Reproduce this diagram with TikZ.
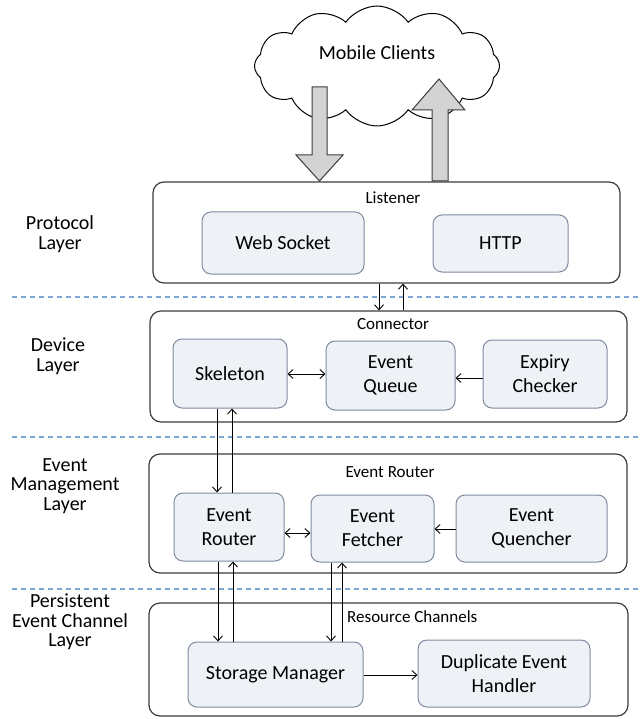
\documentclass[tikz,border=0pt]{standalone}
\usepackage{fontspec}
\setmainfont{Carlito}
\usetikzlibrary{shapes.symbols,arrows.meta}
\definecolor{innerfill}{HTML}{EEF1F6}
\definecolor{innerdraw}{HTML}{7F8CA0}
\definecolor{outerdraw}{HTML}{3C3C3C}
\definecolor{dashblue}{HTML}{7FA8D6}
\definecolor{bigfill}{HTML}{D3D3D3}
\begin{document}
\begin{tikzpicture}[x=1pt,y=-1pt,
  outer/.style={draw=outerdraw,line width=1.2pt,rounded corners=11pt,fill=white},
  inner/.style={draw=innerdraw,line width=1pt,rounded corners=9pt,fill=innerfill,align=center,
    font=\fontsize{20}{24}\selectfont,inner sep=0pt},
  small/.style={font=\fontsize{17}{20}\selectfont,inner sep=0pt},
  layerlbl/.style={font=\fontsize{20}{19.5}\selectfont,align=center,inner sep=0pt},
  sep/.style={draw=dashblue,line width=1.1pt,dash pattern=on 5pt off 4pt},
  conn/.style={draw=black,line width=0.9pt,-{Straight Barb[length=5pt,width=9pt]}},
  biconn/.style={draw=black,line width=0.9pt,{Straight Barb[length=5pt,width=9pt]}-{Straight Barb[length=5pt,width=9pt]}},
  bigarrow/.style={draw=outerdraw,line width=1pt,fill=bigfill}]
\useasboundingbox (0,0) rectangle (639,719);
% cloud
\node[cloud,draw=black,line width=1pt,fill=white,cloud puffs=12,cloud puff arc=110,aspect=2.0,
  minimum width=245pt,minimum height=120pt,inner sep=0pt] (cloud) at (377,66) {};
\node[font=\fontsize{20}{24}\selectfont,inner sep=0pt] (mc) at (377,53) {Mobile Clients};
% dashed separators
\coordinate (s1a) at (12,297); \coordinate (s1b) at (639,297);
\coordinate (s2a) at (12,437); \coordinate (s2b) at (639,437);
\coordinate (s3a) at (12,589); \coordinate (s3b) at (639,589);
\draw[sep] (s1a) -- (s1b);
\draw[sep] (s2a) -- (s2b);
\draw[sep] (s3a) -- (s3b);
% outer boxes
\node[outer,minimum width=467pt,minimum height=101pt] (proto) at (386.5,232.5) {};
\node[outer,minimum width=477pt,minimum height=111pt] (device) at (388.5,366.5) {};
\node[outer,minimum width=478pt,minimum height=119pt] (evmgmt) at (388,513.5) {};
\node[outer,minimum width=479pt,minimum height=113pt] (persist) at (388.5,659.5) {};
% big arrows
\draw[bigarrow] (312,87) -- (327,87) -- (327,155) -- (343,155) -- (319.5,181) -- (296,155) -- (312,155) -- cycle;
\draw[bigarrow] (432,181) -- (432,110) -- (412,110) -- (439,79) -- (465,110) -- (448,110) -- (448,181) -- cycle;
% group labels
\node[small] (lis) at (393,198) {Listener};
\node[small] (con) at (393,324) {Connector};
\node[small] (erl) at (390,472) {Event Router};
\node[small,anchor=west] (rc) at (347,617) {Resource Channels};
% inner boxes
\node[inner,minimum width=162pt,minimum height=62pt] (ws) at (283,243) {Web Socket};
\node[inner,minimum width=135pt,minimum height=57pt] (http) at (500.5,243.5) {HTTP};
\node[inner,minimum width=114pt,minimum height=69pt] (skel) at (230,373.5) {Skeleton};
\node[inner,minimum width=129pt,minimum height=69pt] (eq) at (390.5,375.5) {Event\\Queue};
\node[inner,minimum width=124pt,minimum height=68pt] (exp) at (545,374) {Expiry\\Checker};
\node[inner,minimum width=110pt,minimum height=68pt] (er) at (229,527) {Event\\Router};
\node[inner,minimum width=123pt,minimum height=67pt] (ef) at (372.5,528.5) {Event\\Fetcher};
\node[inner,minimum width=151pt,minimum height=67pt] (eqn) at (531.5,528.5) {Event\\Quencher};
\node[inner,minimum width=175pt,minimum height=65pt] (sm) at (275.5,674.5) {Storage Manager};
\node[inner,minimum width=172pt,minimum height=67pt] (deh) at (504,673.5) {Duplicate Event\\Handler};
% layer labels
\node[layerlbl] (l1) at (60,234) {Protocol\\Layer};
\node[layerlbl] (l2) at (58,356) {Device\\Layer};
\node[layerlbl] (l3) at (65,486) {Event\\Management\\Layer};
\node[layerlbl] (l4) at (70,622) {Persistent\\Event Channel\\Layer};
% x guides
\coordinate (xa) at (379,0); \coordinate (xb) at (403,0);
\coordinate (xc) at (217,0); \coordinate (xd) at (232,0);
\coordinate (xe) at (218,0); \coordinate (xf) at (233,0);
\coordinate (xg) at (331,0); \coordinate (xh) at (342,0);
\coordinate (ya) at (0,374); \coordinate (yb) at (0,378);
\coordinate (yc) at (0,533); \coordinate (yd) at (0,529);
\coordinate (ye) at (0,675);
% small connectors
\draw[conn] (proto.south -| xa) -- (device.north -| xa);
\draw[conn] (device.north -| xb) -- (proto.south -| xb);
\draw[conn] (skel.south -| xc) -- (er.north -| xc);
\draw[conn] (er.north -| xd) -- (skel.south -| xd);
\draw[conn] (er.south -| xe) -- (sm.north -| xe);
\draw[conn] (sm.north -| xf) -- (er.south -| xf);
\draw[conn] (ef.south -| xg) -- (sm.north -| xg);
\draw[conn] (sm.north -| xh) -- (ef.south -| xh);
\draw[biconn] (skel.east |- ya) -- (eq.west |- ya);
\draw[conn] (exp.west |- yb) -- (eq.east |- yb);
\draw[biconn] (er.east |- yc) -- (ef.west |- yc);
\draw[conn] (eqn.west |- yd) -- (ef.east |- yd);
\draw[conn] (sm.east |- ye) -- (deh.west |- ye);
\end{tikzpicture}
\end{document}
